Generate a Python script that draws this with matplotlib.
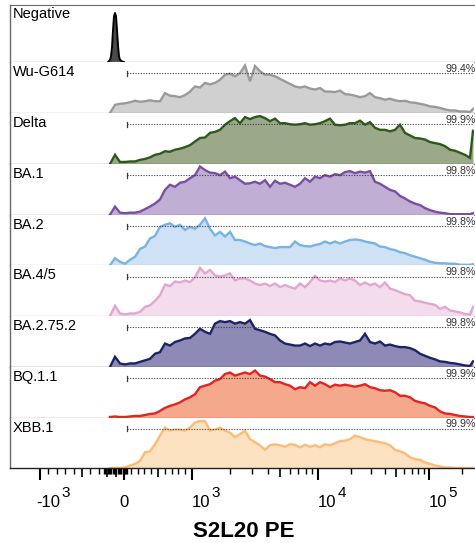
import numpy as np
import matplotlib
matplotlib.use("Agg")
import matplotlib.pyplot as plt
from matplotlib.ticker import FixedLocator, NullFormatter

plt.rcParams['font.family'] = ['Liberation Sans', 'DejaVu Sans']

# ---------------- data ----------------
# bin centres (fluorescence intensity, S2L20 PE)
intensity = [-167, -107, -48, 15, 88, 162, 235, 309, 382, 456, 529, 603, 676, 750,
             824, 897, 971, 1056, 1157, 1269, 1390, 1522, 1668, 1828, 2002, 2194,
             2404, 2634, 2886, 3162, 3465, 3796, 4159, 4557, 4993, 5471, 5995, 6568,
             7197, 7885, 8640, 9467, 10424, 11564, 12830, 14232, 15789, 17516, 19430,
             21544, 23899, 26510, 29408, 32622, 36186, 40142, 44530, 49396, 54794,
             60782, 67424, 74793, 82966, 92037, 102100, 113260, 125640, 139370,
             154600, 171500, 190250, 211040, 234100, 249100]

samples = ['Wu-G614', 'Delta', 'BA.1', 'BA.2', 'BA.4/5', 'BA.2.75.2', 'BQ.1.1', 'XBB.1']
gate_pct = ['99.4%', '99.9%', '99.8%', '99.8%', '99.8%', '99.8%', '99.9%', '99.9%']

wu_g614 = [0, 16, 18, 19, 21, 24, 22, 23, 25, 23, 23, 39, 34, 33, 31, 35, 42, 52, 50, 59,
           56, 59, 65, 75, 77, 72, 78, 93, 62, 92, 82, 75, 75, 72, 67, 62, 57, 52, 50, 52,
           48, 46, 49, 42, 42, 41, 44, 37, 36, 34, 31, 33, 39, 31, 29, 26, 28, 25, 23, 24,
           21, 20, 18, 16, 13, 12, 10, 7, 5, 5, 3, 3, 2, 8]
delta = [0, 18, 4, 4, 5, 5, 8, 10, 13, 18, 20, 25, 24, 28, 30, 33, 37, 44, 51, 52, 61, 63,
         67, 77, 84, 90, 80, 92, 88, 92, 94, 90, 84, 89, 80, 80, 78, 77, 78, 80, 77, 78, 80,
         84, 89, 77, 76, 77, 80, 80, 85, 77, 82, 71, 67, 67, 64, 67, 77, 61, 56, 51, 50, 48,
         43, 41, 39, 35, 28, 26, 22, 18, 12, 65]
ba1 = [0, 16, 4, 3, 4, 4, 6, 11, 16, 22, 30, 49, 59, 55, 63, 65, 72, 78, 95, 88, 83, 82,
       78, 85, 72, 75, 68, 61, 62, 65, 61, 68, 55, 67, 61, 63, 59, 55, 61, 72, 65, 75, 72,
       78, 75, 80, 78, 84, 86, 82, 85, 83, 86, 65, 61, 55, 49, 46, 37, 32, 26, 22, 19, 13,
       9, 6, 4, 3, 1, 1, 1, 1, 1, 3]
ba2 = [0, 14, 7, 3, 11, 17, 32, 37, 53, 58, 76, 80, 83, 76, 80, 70, 76, 72, 80, 93, 72, 59,
       66, 57, 66, 50, 50, 47, 43, 40, 43, 38, 36, 34, 36, 36, 36, 47, 40, 38, 37, 40, 42,
       47, 43, 47, 43, 47, 50, 51, 50, 47, 45, 43, 37, 36, 32, 30, 26, 24, 20, 17, 14, 11,
       7, 5, 4, 4, 3, 3, 1, 1, 1, 2]
ba45 = [0, 20, 5, 3, 5, 5, 8, 18, 21, 30, 41, 62, 59, 68, 66, 70, 67, 76, 95, 84, 91, 80,
        78, 80, 84, 70, 74, 74, 70, 64, 61, 64, 59, 64, 57, 61, 57, 54, 64, 57, 67, 79, 70,
        68, 70, 67, 74, 70, 74, 70, 61, 66, 61, 64, 57, 66, 54, 51, 47, 43, 41, 30, 29, 26,
        24, 22, 14, 18, 11, 9, 7, 4, 3, 18]
ba2752 = [0, 20, 7, 5, 7, 7, 10, 13, 16, 26, 29, 46, 42, 49, 52, 56, 57, 65, 75, 69, 65,
          85, 90, 88, 90, 85, 88, 85, 92, 75, 72, 69, 65, 62, 52, 46, 44, 42, 42, 46, 41,
          46, 42, 46, 44, 49, 50, 48, 46, 49, 52, 65, 49, 46, 50, 42, 44, 41, 39, 39, 37,
          33, 26, 22, 18, 15, 11, 10, 8, 7, 5, 3, 2, 11]
bq11 = [1, 2, 1, 1, 2, 3, 3, 5, 7, 8, 13, 19, 23, 26, 30, 36, 40, 46, 60, 63, 66, 73, 76,
        86, 89, 83, 86, 89, 86, 93, 83, 81, 76, 70, 70, 66, 63, 56, 60, 58, 70, 63, 70, 66,
        60, 65, 63, 65, 63, 61, 63, 66, 60, 58, 54, 53, 54, 50, 43, 43, 40, 33, 30, 28, 23,
        20, 12, 8, 7, 5, 3, 2, 1, 1]
xbb1 = [0, 0, 0, 1, 5, 8, 14, 31, 33, 47, 64, 80, 74, 76, 76, 74, 80, 90, 93, 93, 74, 76,
        80, 74, 70, 61, 67, 74, 57, 51, 45, 36, 45, 47, 45, 42, 47, 46, 41, 46, 42, 45, 41,
        47, 45, 49, 53, 54, 57, 64, 61, 57, 55, 53, 51, 49, 45, 36, 33, 29, 21, 18, 16, 11,
        8, 5, 3, 1, 1, 0, 0, 0, 0, 0]

neg_intensity = [-190, -167, -155, -143, -131, -119, -107, -95, -83, -71, -60, -48, -24, 0]
neg_counts = [0, 3, 10, 25, 55, 80, 86, 80, 55, 28, 10, 4, 1, 0]

gate_low = 44          # start of the positive gate
tick_values = [-1000, 0, 1000, 10000, 100000]
tick_bases = ['-10', '0', '10', '10', '10']
tick_exps = ['3', '', '3', '4', '5']

# ---------------- styles ----------------
line_colors = ['#9a9a9a', '#2c5a1c', '#7a4fa3', '#79b3e1', '#e2a6d1', '#1e2266',
               '#e42323', '#fdbb77']
fill_colors = ['#d0d0d0', '#9ba98a', '#c1aed5', '#cfe2f5', '#f3dcec', '#8d8bb5',
               '#f4a98c', '#fde2c1']
W, H = 475, 543
edges = [5, 62, 113, 164, 214.7, 265.3, 316, 367, 417.5, 468]
X0, X1 = 10, 474
GATE_Y = 77.5


# biexponential-like display transform (units = figure pixels)
def fwd(x):
    x = np.asarray(x, dtype=float)
    a = np.maximum(np.abs(x), 1e-9)
    lg = np.log10(a)
    pos_log = np.where(lg < 4, 192 + 126 * (lg - 3), 318 + 111 * (lg - 4))
    neg_log = 40 - 111 * (lg - 3)
    return np.where(x >= 1000, pos_log,
           np.where(x >= 0, 124 + 0.068 * x,
           np.where(x >= -1000, 124 + 0.084 * x, neg_log)))


def inv(u):
    u = np.clip(np.asarray(u, dtype=float), -400, 900)
    with np.errstate(over='ignore'):
        pos_log = np.where(u < 318, 10 ** (3 + (u - 192) / 126), 10 ** (4 + (u - 318) / 111))
        neg_log = -10 ** (3 + (40 - u) / 111)
    return np.where(u >= 192, pos_log,
           np.where(u >= 124, (u - 124) / 0.068,
           np.where(u >= 40, (u - 124) / 0.084, neg_log)))


xmin, xmax = float(inv(X0)), float(inv(X1))

fig = plt.figure(figsize=(W / 100, H / 100), dpi=100)
series = [wu_g614, delta, ba1, ba2, ba45, ba2752, bq11, xbb1]
axes = []
for i in range(9):
    top, bot = edges[i], edges[i + 1]
    ax = fig.add_axes([X0 / W, 1 - bot / H, (X1 - X0) / W, (bot - top) / H])
    ax.set_xscale('function', functions=(fwd, inv))
    ax.set_xlim(xmin, xmax)
    ax.set_ylim(0, 100)
    ax.set_yticks([])
    for s in ['top', 'right']:
        ax.spines[s].set_visible(False)
    ax.spines['left'].set_color('#6a6a6a')
    ax.spines['left'].set_linewidth(1.0)
    ax.tick_params(axis='x', which='both', bottom=False, labelbottom=False)
    axes.append(ax)

# negative control panel
ax = axes[0]
ax.spines['top'].set_visible(True)
ax.spines['top'].set_color('#6a6a6a')
ax.spines['bottom'].set_color('#8a8a8a')
ax.spines['bottom'].set_linewidth(0.9)
ax.fill_between(neg_intensity, neg_counts, 0, color='#4a4a4a', lw=0)
ax.plot(neg_intensity, neg_counts, color='black', lw=1.4)
ax.annotate('Negative', xy=(0, 1), xycoords='axes fraction', xytext=(2.2, -1.2),
            textcoords='offset points', ha='left', va='top', fontsize=10.5)

for i, (name, vals) in enumerate(zip(samples, series)):
    ax = axes[i + 1]
    lc, fc = line_colors[i], fill_colors[i]
    ax.spines['bottom'].set_color(lc)
    ax.spines['bottom'].set_linewidth(0.9)
    ax.fill_between(intensity, vals, 0, color=fc, lw=0)
    ax.plot(intensity, vals, color=lc, lw=1.7, solid_joinstyle='miter')
    ax.plot([gate_low, xmax], [GATE_Y, GATE_Y], ls=(0, (1, 1.4)), color='#3a3a3a', lw=0.8)
    ax.plot([gate_low, gate_low], [GATE_Y - 5, GATE_Y + 5], color='#3a3a3a', lw=0.9)
    ax.annotate(name, xy=(0, 1), xycoords='axes fraction', xytext=(2.2, -2.3),
                textcoords='offset points', ha='left', va='top', fontsize=10.5)
    ax.annotate(gate_pct[i], xy=(1, GATE_Y), xycoords=('axes fraction', 'data'),
                xytext=(1.5, 1.0), textcoords='offset points', ha='right', va='baseline',
                fontsize=7.7, color='#333333', annotation_clip=False)

# bottom axis
ax = axes[-1]
ax.spines['bottom'].set_color('#222222')
ax.spines['bottom'].set_linewidth(1.0)
major = tick_values
medium = [-500, -200, -100, 500, 5000, 50000]
minor = ([v for v in range(-900, -200, 100) if v != -500] + list(range(-240, 60, 15)) +
         [v for v in range(100, 1000, 100) if v != 500] +
         [v for v in range(2000, 10000, 1000) if v != 5000] +
         [v for v in range(20000, 100000, 10000) if v != 50000] + [200000])
ax.xaxis.set_major_locator(FixedLocator(major))
ax.xaxis.set_minor_locator(FixedLocator(minor))
ax.xaxis.set_major_formatter(NullFormatter())
ax.xaxis.set_minor_formatter(NullFormatter())
ax.tick_params(axis='x', which='major', bottom=True, direction='out', length=8.6,
               width=1.5, color='black', labelbottom=False)
ax.tick_params(axis='x', which='minor', bottom=True, direction='out', length=4.2,
               width=1.0, color='black')
sec = ax.secondary_xaxis('bottom', functions=(lambda v: v, lambda v: v))
sec.set_xscale('function', functions=(fwd, inv))
sec.spines['bottom'].set_visible(False)
sec.xaxis.set_major_locator(FixedLocator(medium))
sec.xaxis.set_minor_locator(FixedLocator([]))
sec.xaxis.set_major_formatter(NullFormatter())
sec.tick_params(axis='x', which='major', direction='out', length=6.5, width=1.2,
                color='black')

for val, base, ex in zip(tick_values, tick_bases, tick_exps):
    if ex == '':
        ax.annotate(base, xy=(val, 0), xycoords=('data', 'axes fraction'),
                    xytext=(0, -28.3), textcoords='offset points', ha='center',
                    va='baseline', fontsize=12)
    else:
        dx = -3.0 if base.startswith('-') else -0.5
        t = ax.annotate(base, xy=(val, 0), xycoords=('data', 'axes fraction'),
                        xytext=(dx, -28.3), textcoords='offset points', ha='left',
                        va='baseline', fontsize=12)
        ax.annotate(ex, xy=(1, 0), xycoords=t, xytext=(1.2, 9.5),
                    textcoords='offset points', ha='left', va='baseline', fontsize=11)

fig.text(243.5 / W, 1 - 536.7 / H, 'S2L20 PE', ha='center', va='baseline',
         fontsize=16, fontweight='bold')

fig.savefig('out.png', dpi=100)
